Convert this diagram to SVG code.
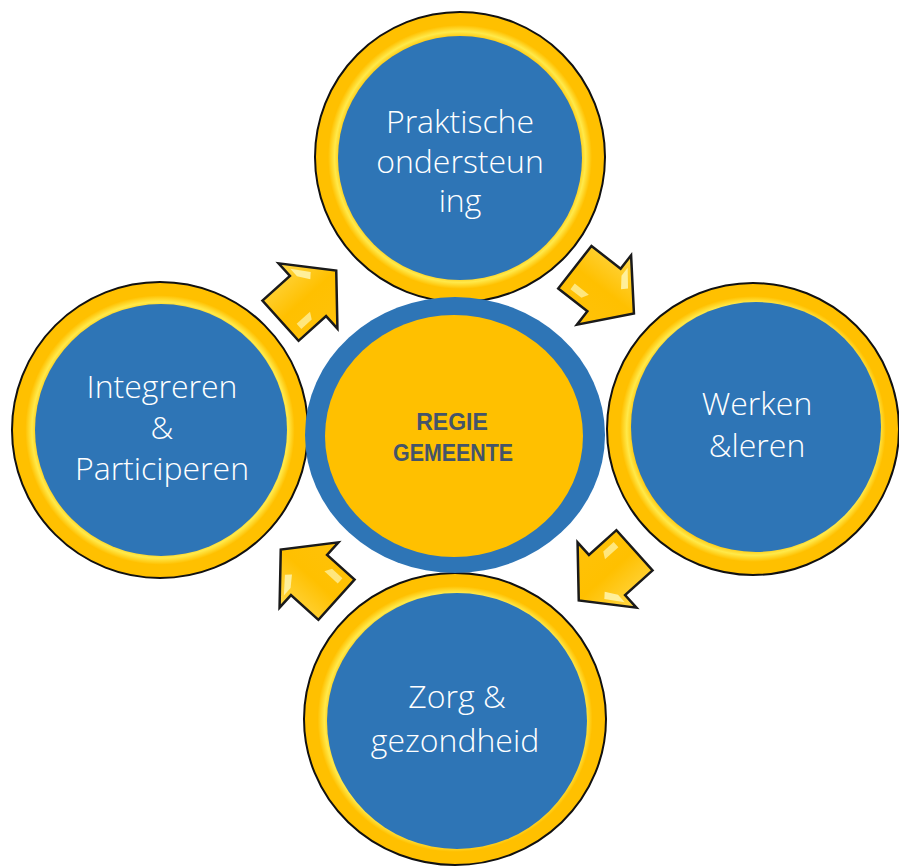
<svg xmlns="http://www.w3.org/2000/svg" width="899" height="867" viewBox="0 0 899 867">
<style>
.ring{stroke:#111;stroke-width:2;fill:url(#rg)}
.core{fill:#2E75B6}
.lbl{font-family:"Open Sans","Noto Sans",sans-serif;font-weight:300;font-size:32px;fill:#fff;text-anchor:middle}
.ctr{font-family:"Liberation Sans",Arial,sans-serif;font-weight:bold;font-size:23px;fill:#44546A;text-anchor:middle}
</style>
<defs>
<radialGradient id="rg" cx="0.5" cy="0.5" r="0.5">
<stop offset="0.82" stop-color="#FFC000"/>
<stop offset="0.865" stop-color="#FFE94A"/>
<stop offset="0.91" stop-color="#FFC000"/>
<stop offset="1" stop-color="#FFC000"/>
</radialGradient>
<linearGradient id="ag" gradientUnits="userSpaceOnUse" x1="0" y1="-45" x2="0" y2="45">
<stop offset="0" stop-color="#FFD84A"/>
<stop offset="0.5" stop-color="#FFC000"/>
<stop offset="1" stop-color="#FFC20A"/>
</linearGradient>
<g id="arr">
<path d="M-37,-27 H0 V-44 L38,0 L0,44 V27 H-37 Z" fill="url(#ag)" stroke="#1a1a1a" stroke-width="2.5" stroke-linejoin="miter"/>
<path d="M5,-32 L18,-16 L13,-11 L5,-22 Z" fill="#FFF6B0" opacity="0.85"/>
<path d="M-27,13 L-9,13 L-13,20 L-27,20 Z" fill="#FFF6B0" opacity="0.7"/>
</g>
</defs>
<rect width="899" height="867" fill="#fff"/>
<g id="connectors">
<use href="#arr" transform="translate(308,296) rotate(-42)"/>
<use href="#arr" transform="translate(604,290) rotate(38)"/>
<use href="#arr" transform="translate(607,575) rotate(138)"/>
<use href="#arr" transform="translate(309,575) rotate(-138)"/>
</g>
<g id="node-praktische">
<circle class="ring" cx="460" cy="157" r="145"/>
<circle class="core" cx="460" cy="158" r="122"/>
<text class="lbl" x="460" y="133">Praktische</text>
<text class="lbl" x="460" y="173">ondersteun</text>
<text class="lbl" x="460" y="212">ing</text>
</g>
<g id="node-integreren">
<circle class="ring" cx="160" cy="430" r="148"/>
<circle class="core" cx="161" cy="430" r="126"/>
<text class="lbl" x="162" y="398">Integreren</text>
<text class="lbl" x="162" y="439">&amp;</text>
<text class="lbl" x="162" y="480">Participeren</text>
</g>
<g id="node-werken">
<circle class="ring" cx="753" cy="429" r="146"/>
<circle class="core" cx="756" cy="427" r="125"/>
<text class="lbl" x="757" y="415">Werken</text>
<text class="lbl" x="757" y="457">&amp;leren</text>
</g>
<g id="node-zorg">
<ellipse class="ring" cx="455" cy="719" rx="151" ry="146"/>
<ellipse class="core" cx="457" cy="721" rx="130" ry="128"/>
<text class="lbl" x="457" y="708">Zorg &amp;</text>
<text class="lbl" x="455" y="752">gezondheid</text>
</g>
<g id="node-regie">
<ellipse cx="455" cy="435" rx="150" ry="138" fill="#2E75B6"/>
<ellipse cx="454" cy="436" rx="129" ry="121" fill="#FFC000"/>
<text class="ctr" x="452" y="430">REGIE</text>
<text class="ctr" x="453" y="461" textLength="120" lengthAdjust="spacingAndGlyphs">GEMEENTE</text>
</g>
</svg>
